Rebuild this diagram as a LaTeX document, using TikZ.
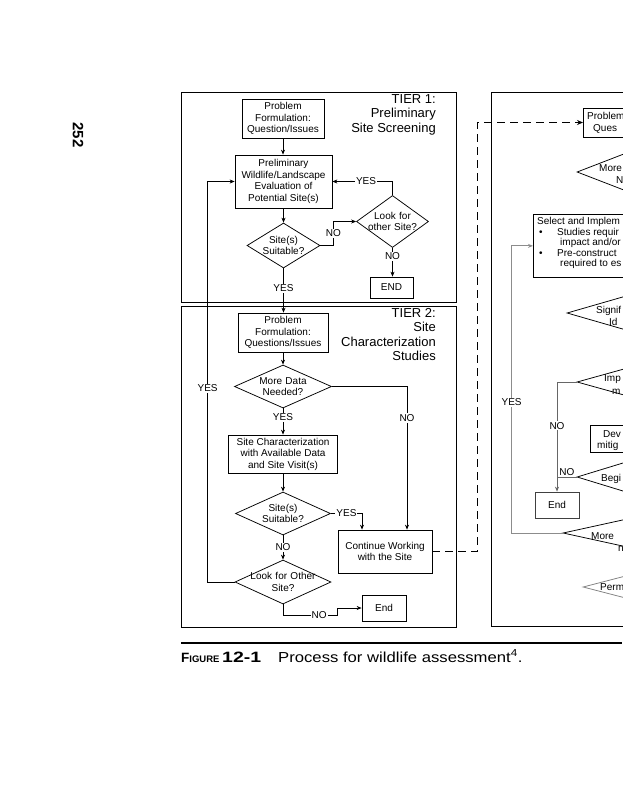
\documentclass[tikz,border=0pt]{standalone}
\usepackage{fontspec}
\setmainfont{Liberation Sans}
\usetikzlibrary{shapes.geometric,arrows.meta}
\newcommand\dfs{\fontsize{10}{11.5}\selectfont}
\newcommand\zb[1]{\makebox[0pt]{#1}}
\begin{document}
\begin{tikzpicture}[x=1pt,y=-1pt,
  every node/.style={font=\dfs},
  box/.style={draw, line width=0.75pt, inner sep=0pt, align=center},
  dia/.style={draw, shape=diamond, line width=0.75pt, inner sep=0pt, text width=2pt, align=center},
  arr/.style={line width=0.75pt, -{Stealth[length=5pt,width=4pt]}},
  ln/.style={line width=0.75pt},
  lbl/.style={fill=white, inner sep=1pt},
  gl/.style={line width=0.9pt, draw=black!45},
  frag/.style={anchor=base west, inner sep=0pt},
  tier/.style={anchor=north east, align=right, inner sep=0pt, font=\fontsize{13}{14.5}\selectfont},
]
\fill[white] (0,0) rectangle (622,800);
\useasboundingbox (0,0) rectangle (622,800);

% page number
\node[rotate=-90, font=\bfseries\fontsize{15}{15}\selectfont] (pg) at (78,135) {252};

% frames
\draw[ln] (181,92) rectangle (456,302);
\draw[ln] (181,306) rectangle (456,627);
\draw[ln] (491,92) rectangle (740,626);

% ---------- Tier 1
\node[box, minimum width=82pt, minimum height=39pt] (p1) at (283,118.5) {Problem\\Formulation:\\Question/Issues};
\node[box, minimum width=97pt, minimum height=53pt] (e1) at (283.5,181.5) {Preliminary\\Wildlife/Landscape\\Evaluation of\\Potential Site(s)};
\node[dia, minimum width=73pt, minimum height=45pt] (s1) at (283.5,245.5) {\zb{Site(s)}\\\zb{Suitable?}};
\node[dia, minimum width=72pt, minimum height=52pt] (l1) at (392.5,221.5) {\zb{Look for}\\\zb{other Site?}};
\node[box, minimum width=43pt, minimum height=21pt] (end1) at (391.5,287.5) {END};
\node[tier] (t1) at (436,94) {TIER 1:\\Preliminary\\Site Screening};

% ---------- Tier 2
\node[box, minimum width=90pt, minimum height=39pt] (p2) at (283,332.5) {Problem\\Formulation:\\Questions/Issues};
\node[dia, minimum width=97pt, minimum height=43pt] (m2) at (283,386.5) {\zb{More Data}\\\zb{Needed?}};
\node[box, minimum width=109pt, minimum height=38pt] (sc2) at (283,454) {Site Characterization\\with Available Data\\and Site Visit(s)};
\node[dia, minimum width=95pt, minimum height=43pt] (s2) at (283,513.5) {\zb{Site(s)}\\\zb{Suitable?}};
\node[box, minimum width=94pt, minimum height=43pt] (c2) at (385,551.5) {Continue Working\\with the Site};
\node[dia, minimum width=96pt, minimum height=44pt] (l2) at (283,582) {\zb{Look for Other}\\\zb{Site?}};
\node[box, minimum width=44pt, minimum height=26pt] (end2) at (384,608) {End};
\node[tier] (t2) at (436,308) {TIER 2:\\Site\\Characterization\\Studies};

\draw[arr] (p1.south) -- (p1.south |- e1.north);
\draw[arr] (e1.south) -- (e1.south |- s1.north);
\draw[arr] (s1.east) -- ++(13,0) |- (l1.west) node[pos=0.25,lbl]{NO};
\draw[arr] (l1.north) |- (e1.east) node[pos=0.72,lbl]{YES};
\draw[arr] (l1.south) -- (l1.south |- end1.north) node[pos=0.3,lbl]{NO};
\draw[arr] (s1.south) -- (s1.south |- p2.north) node[pos=0.45,lbl]{YES};

\draw[arr] (p2.south) -- (m2.north);
\draw[arr] (m2.south) -- (sc2.north) node[pos=0.33,lbl]{YES};
\draw[arr] (m2.east) -| ([xshift=22pt]c2.north) node[pos=0.61,lbl]{NO};
\draw[arr] (sc2.south) -- (s2.north);
\draw[arr] (s2.east) -| ([xshift=-23pt]c2.north) node[pos=0.25,lbl]{YES};
\draw[arr] (s2.south) -- (l2.north) node[midway,lbl]{NO};
\draw[arr] (l2.west) -- ++(-27,0) |- (e1.west) node[pos=0.242,lbl]{YES};
\draw[arr] (l2.south) |- ([xshift=-24pt,yshift=-7pt]end2.west) node[pos=0.83,lbl]{NO} |- (end2.west);

% ---------- right column (cut by page edge)
\node[box, anchor=west, minimum width=90pt, minimum height=29pt] (p3) at (583,122.5) {};
\node[frag] (p3a) at (587,119.5) {Problem};
\node[frag] (p3b) at (593,131.5) {Ques};
\draw[line width=1pt, -{Stealth[length=6pt,width=5pt]}, dash pattern=on 8pt off 5pt] (c2.east) -- ++(45,0) |- (p3.west);

\node[dia, minimum width=98pt, minimum height=38pt] (m3) at (626,172) {};
\node[frag] (m3a) at (599,171.5) {More};
\node[frag] (m3b) at (616,183.5) {N};

\node[box, anchor=north west, minimum width=160pt, minimum height=63pt] (s3) at (533,214) {};
\node[frag] (s3a) at (537,224.5) {Select and Implem};
\node[frag] (s3b) at (539,235) {\textbullet};
\node[frag] (s3c) at (557,235) {Studies requir};
\node[frag] (s3d) at (560,245.5) {impact and/or};
\node[frag] (s3e) at (539,256) {\textbullet};
\node[frag] (s3f) at (557,256) {Pre-construct};
\node[frag] (s3g) at (560,266.5) {required to es};

\node[dia, minimum width=138pt, minimum height=40pt] (g3) at (636,313) {};
\node[frag] (g3a) at (596,313.5) {Signif};
\node[frag] (g3b) at (609,325.5) {Id};

\node[dia, minimum width=136pt, minimum height=38pt] (i3) at (645,382) {};
\node[frag] (i3a) at (604,381.5) {Imp};
\node[frag] (i3b) at (612,394.5) {m};

\node[box, anchor=west, minimum width=80pt, minimum height=27pt] (d3) at (590,438.5) {};
\node[frag] (d3a) at (603,437.5) {Dev};
\node[frag] (d3b) at (597,448) {mitig};

\node[dia, minimum width=104pt, minimum height=32pt] (b3) at (629,477) {};
\node[frag] (b3a) at (601,481.5) {Begi};

\node[box, draw=black!75, minimum width=44pt, minimum height=26pt] (end3) at (557,505) {End};

\node[dia, minimum width=136pt, minimum height=30pt] (n3) at (631,533) {};
\node[frag] (n3a) at (591,539.5) {More};
\node[frag] (n3b) at (618,551) {n};

\node[dia, draw=black!50, minimum width=84pt, minimum height=22pt] (q3) at (625,587) {};
\node[frag] (q3a) at (600,590.5) {Perm};

\draw[arr, draw=black!60] (i3.west) -| (end3.north) node[pos=0.7,lbl]{NO};
\draw[ln, draw=black!60] (b3.west) -- (b3.west -| end3.north) node[midway, above, inner sep=1pt]{NO};
\draw[arr, gl] (n3.west) -- ++(-51,0) |- (s3.west) node[pos=0.228,lbl]{YES};

% ---------- caption
\draw[line width=1.8pt] (181,643) -- (622,643);
\node[anchor=base west, inner sep=0pt] (fig) at (181,662) {\bfseries\fontsize{13.5}{16}\selectfont F\fontsize{9.5}{16}\selectfont IGURE};
\node[anchor=base west, inner sep=0pt] (fign) at (222,662) {\scalebox{1.3}[1]{\bfseries\fontsize{15}{16}\selectfont 12-1}};
\node[anchor=base west, inner sep=0pt] (cap) at (278,662) {\scalebox{1.15}[1]{\fontsize{14.5}{16}\selectfont Process for wildlife assessment\textsuperscript{4}.}};
\end{tikzpicture}
\end{document}
